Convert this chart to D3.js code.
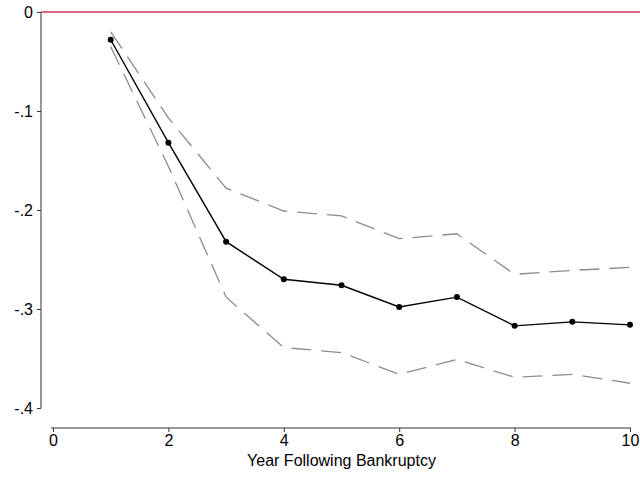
<!DOCTYPE html>
<html><head><meta charset="utf-8">
<script src="https://cdn.jsdelivr.net/npm/d3@7"></script>
<style>body{margin:0;background:#fff}svg{display:block}text{font-family:"Liberation Sans",Arial,sans-serif}</style>
</head><body><svg id="c" width="640" height="477"></svg>
<script>
const years = [1,2,3,4,5,6,7,8,9,10];
const estimate = [-0.028,-0.132,-0.232,-0.270,-0.276,-0.298,-0.288,-0.317,-0.313,-0.316];
const upperCI = [-0.020,-0.107,-0.178,-0.201,-0.206,-0.229,-0.224,-0.265,-0.261,-0.258];
const lowerCI = [-0.035,-0.156,-0.288,-0.339,-0.344,-0.366,-0.351,-0.369,-0.366,-0.375];
const xTicks = [0,2,4,6,8,10];
const yTicks = [0,-0.1,-0.2,-0.3,-0.4];
const yTickLabels = ["0","-.1","-.2","-.3","-.4"];

const svg = d3.select("#c");
const x = d3.scaleLinear().domain([0,10]).range([53,630]);
const y = d3.scaleLinear().domain([-0.4,0]).range([408,12]);
const FONT = "Liberation Sans, Arial, sans-serif";

// y axis
const yAxis = d3.axisLeft(y).tickValues(yTicks).tickSize(4).tickPadding(4)
  .tickFormat((d,i)=>yTickLabels[i]);
const gy = svg.append("g").attr("transform","translate(41,0)").call(yAxis);
gy.select(".domain").attr("d","M0,12V408").attr("stroke","#333");
gy.selectAll(".tick line").attr("stroke","#333");
gy.selectAll(".tick text").attr("font-size",16).attr("fill","#000").attr("font-family",FONT);

// x axis
const xAxis = d3.axisBottom(x).tickValues(xTicks).tickSize(4).tickPadding(3);
const gx = svg.append("g").attr("transform","translate(0,428)").call(xAxis);
gx.select(".domain").attr("d","M51,0H631").attr("stroke","#333");
gx.selectAll(".tick line").attr("stroke","#333");
gx.selectAll(".tick text").attr("font-size",16).attr("fill","#000").attr("font-family",FONT);

svg.append("text").attr("x",x(5)).attr("y",466).attr("text-anchor","middle")
  .attr("font-size",16).attr("font-family",FONT).text("Year Following Bankruptcy");

// zero line
svg.append("line").attr("x1",41).attr("x2",640).attr("y1",y(0)).attr("y2",y(0))
  .attr("stroke","#d6335f").attr("stroke-width",1.5);

const line = d3.line().x((d,i)=>x(years[i])).y(d=>y(d));
[upperCI, lowerCI].forEach(s=>{
  svg.append("path").attr("d",line(s)).attr("fill","none").attr("stroke","#8c8c8c")
    .attr("stroke-width",1.3).attr("stroke-dasharray","20,10");
});
svg.append("path").attr("d",line(estimate)).attr("fill","none").attr("stroke","#000").attr("stroke-width",1.4);
svg.selectAll("circle.p").data(estimate).enter().append("circle")
  .attr("cx",(d,i)=>x(years[i])).attr("cy",d=>y(d)).attr("r",3).attr("fill","#000");
</script></body></html>
